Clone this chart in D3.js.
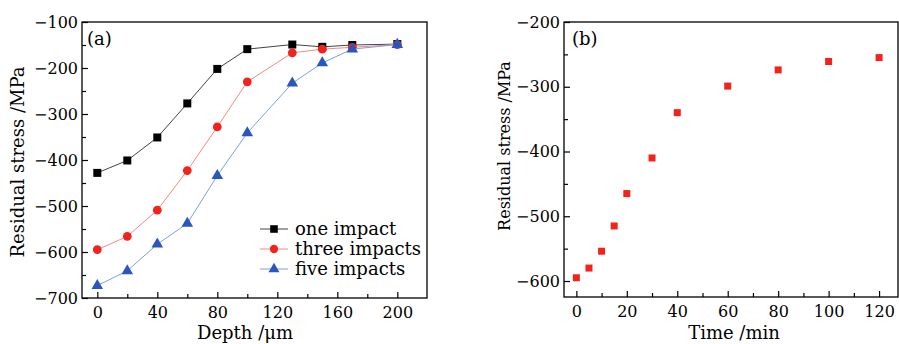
<!DOCTYPE html>
<html>
<head>
<meta charset="utf-8">
<script src="https://cdn.jsdelivr.net/npm/d3@7"></script>
<style>
  html, body { margin: 0; padding: 0; background: #fff; }
  svg { display: block; font-family: 'DejaVu Serif', serif; }
  .axis path, .axis line { stroke: #000; }
</style>
</head>
<body>
<svg id="chart" width="899" height="344"></svg>
<script>
// (a) residual stress vs depth
const depth = [0, 20, 40, 60, 80, 100, 130, 150, 170, 200];
const oneImpact = [-428, -401, -351, -277, -202, -159, -149, -154, -150, -148];
const threeImpacts = [-595, -566, -509, -423, -328, -230, -167, -159, -155, -149];
const fiveImpacts = [-673, -641, -583, -538, -434, -341, -233, -189, -159, -149];
const seriesNames = ['one impact', 'three impacts', 'five impacts'];

// (b) residual stress vs time
const time = [0, 5, 10, 15, 20, 30, 40, 60, 80, 100, 120];
const stressTime = [-595, -580, -554, -515, -465, -410, -340, -299, -274, -261, -255];

const depthTicks = [0, 40, 80, 120, 160, 200];
const depthMinor = [20, 60, 100, 140, 180];
const stressTicksA = [-100, -200, -300, -400, -500, -600, -700];
const stressMinorA = [-150, -250, -350, -450, -550, -650];
const timeTicks = [0, 20, 40, 60, 80, 100, 120];
const timeMinor = [10, 30, 50, 70, 90, 110];
const stressTicksB = [-200, -300, -400, -500, -600];
const stressMinorB = [-250, -350, -450, -550];

const svg = d3.select('#chart');
const fmt = d => d < 0 ? '\u2212' + Math.abs(d) : String(d);

// boxed frame with inward major/minor ticks on bottom and left
function frame(g, x, y, xMajor, xMinor, yMajor, yMinor) {
  const [x0, x1] = x.range();
  const [y0, y1] = y.range();

  g.append('g').attr('class', 'axis').attr('transform', `translate(0,${y0})`)
    .call(d3.axisBottom(x).tickValues(xMinor).tickSize(-4).tickFormat(''))
    .call(a => a.select('.domain').remove());
  g.append('g').attr('class', 'axis').attr('transform', `translate(0,${y0})`)
    .call(d3.axisBottom(x).tickValues(xMajor).tickSize(-6).tickPadding(9).tickFormat(fmt))
    .call(a => a.select('.domain').remove());

  g.append('g').attr('class', 'axis').attr('transform', `translate(${x0},0)`)
    .call(d3.axisLeft(y).tickValues(yMinor).tickSize(-4).tickFormat(''))
    .call(a => a.select('.domain').remove());
  g.append('g').attr('class', 'axis').attr('transform', `translate(${x0},0)`)
    .call(d3.axisLeft(y).tickValues(yMajor).tickSize(-6).tickPadding(4).tickFormat(fmt))
    .call(a => a.select('.domain').remove());

  g.selectAll('.axis line').attr('stroke-width', 1.2);
  g.selectAll('.axis text').attr('font-size', 16).attr('fill', '#000')
    .attr('font-family', "'DejaVu Serif', serif");

  g.append('rect').attr('x', x0).attr('y', y1).attr('width', x1 - x0).attr('height', y0 - y1)
    .attr('fill', 'none').attr('stroke', '#000').attr('stroke-width', 1.3);
}

// ---------- panel (a) ----------
const xA = d3.scaleLinear().domain([-10.2, 219.8]).range([82, 427]);
const yA = d3.scaleLinear().domain([-700, -100]).range([298, 22]);
const gA = svg.append('g');
frame(gA, xA, yA, depthTicks, depthMinor, stressTicksA, stressMinorA);

const styles = [
  { data: oneImpact, line: '#444', fill: '#000', shape: d3.symbolSquare, size: 64 },
  { data: threeImpacts, line: '#f58a80', fill: '#f0241c', shape: d3.symbolCircle, size: 60 },
  { data: fiveImpacts, line: '#7f9ee0', fill: '#2a56c0', shape: d3.symbolTriangle, size: 58 }
];
const line = d3.line().x(d => xA(d[0])).y(d => yA(d[1]));
styles.forEach(s => {
  const pts = depth.map((d, i) => [d, s.data[i]]);
  gA.append('path').datum(pts).attr('d', line).attr('fill', 'none')
    .attr('stroke', s.line).attr('stroke-width', 1);
  gA.selectAll(null).data(pts).join('path')
    .attr('transform', d => `translate(${xA(d[0])},${yA(d[1])})`)
    .attr('d', d3.symbol(s.shape, s.size)).attr('fill', s.fill);
});

// legend
const legend = gA.append('g').attr('transform', 'translate(260,229)');
seriesNames.forEach((name, i) => {
  const s = styles[i];
  const row = legend.append('g').attr('transform', `translate(0,${i * 20})`);
  row.append('line').attr('x1', 0).attr('x2', 28).attr('stroke', s.line).attr('stroke-width', 1);
  row.append('path').attr('transform', 'translate(14,0)').attr('d', d3.symbol(s.shape, s.size * 0.9)).attr('fill', s.fill);
  row.append('text').attr('x', 35).attr('dy', '0.35em').attr('font-size', 18).text(name);
});

gA.append('text').attr('x', 87).attr('y', 45).attr('font-size', 18).text('(a)');
gA.append('text').attr('transform', 'translate(24,162) rotate(-90)').attr('text-anchor', 'middle')
  .attr('font-size', 18).text('Residual stress /MPa');
gA.append('text').attr('x', 245).attr('y', 339).attr('text-anchor', 'middle')
  .attr('font-size', 18).text('Depth /\u03bcm');

// ---------- panel (b) ----------
const xB = d3.scaleLinear().domain([-4.9, 127.5]).range([564, 898]);
const yB = d3.scaleLinear().domain([-624.7, -200]).range([297, 22]);
const gB = svg.append('g');
frame(gB, xB, yB, timeTicks, timeMinor, stressTicksB, stressMinorB);

gB.selectAll(null).data(time.map((t, i) => [t, stressTime[i]])).join('rect')
  .attr('x', d => xB(d[0]) - 3.5).attr('y', d => yB(d[1]) - 3.5)
  .attr('width', 7).attr('height', 7).attr('fill', '#f0241c');

gB.append('text').attr('x', 572).attr('y', 45).attr('font-size', 18).text('(b)');
gB.append('text').attr('transform', 'translate(510,146) rotate(-90)').attr('text-anchor', 'middle')
  .attr('font-size', 16).text('Residual stress /MPa');
gB.append('text').attr('x', 734).attr('y', 339).attr('text-anchor', 'middle')
  .attr('font-size', 18).text('Time /min');
</script>
</body>
</html>
